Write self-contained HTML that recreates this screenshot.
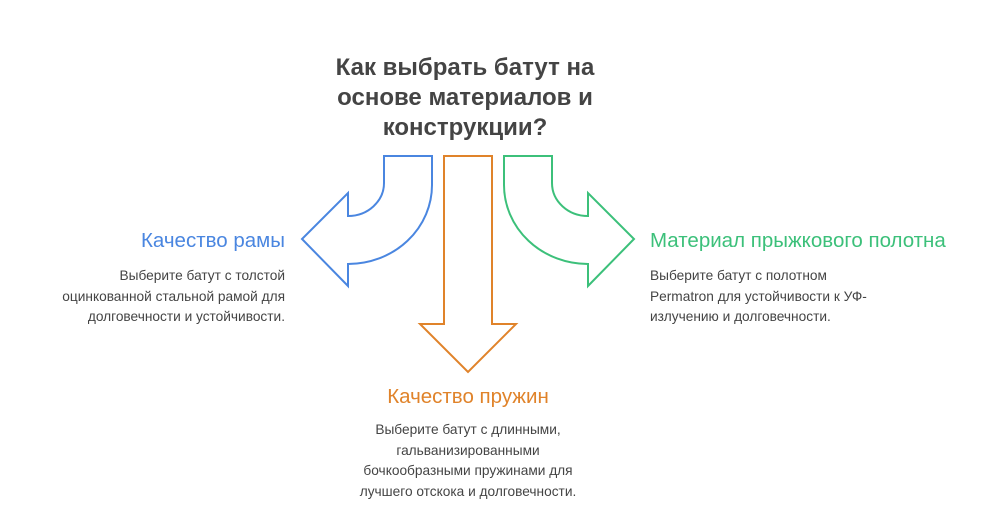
<!DOCTYPE html>
<html><head><meta charset="utf-8"><style>
body{margin:0;width:984px;height:505px;background:#fff;font-family:"Liberation Sans",sans-serif;position:relative;overflow:hidden}
.t{position:absolute;white-space:nowrap}
.h{font-size:20.5px}
.d{font-size:13.7px;color:#444;line-height:20.7px}
</style></head><body>
<div class="t" style="left:265px;top:53px;width:400px;text-align:center;font-size:24px;font-weight:bold;color:#444;line-height:30px">Как выбрать батут на<br>основе материалов и<br>конструкции?</div>
<svg width="984" height="505" style="position:absolute;left:0;top:0">
<path d="M384 156 H432 V185 A84 79 0 0 1 348 264 V286 L302 239 L348 193 V216 A36 33 0 0 0 384 183 Z" fill="none" stroke="#4a86e0" stroke-width="2"/>
<path d="M444 156 H492 V324 H516 L468 372 L420 324 H444 Z" fill="none" stroke="#e0832a" stroke-width="2"/>
<path d="M552 156 H504 V185 A84 79 0 0 0 588 264 V286 L634 239 L588 193 V216 A36 33 0 0 1 552 183 Z" fill="none" stroke="#3cc07a" stroke-width="2"/>
</svg>
<div class="t h" style="right:699px;top:229px;color:#4a86e0">Качество рамы</div>
<div class="t d" style="right:699px;top:266px;text-align:right">Выберите батут с толстой<br>оцинкованной стальной рамой для<br>долговечности и устойчивости.</div>
<div class="t h" style="left:650px;top:229px;color:#3cc07a">Материал прыжкового полотна</div>
<div class="t d" style="left:650px;top:266px">Выберите батут с полотном<br>Permatron для устойчивости к УФ-<br>излучению и долговечности.</div>
<div class="t h" style="left:318px;top:385px;width:300px;text-align:center;color:#e0832a">Качество пружин</div>
<div class="t d" style="left:318px;top:420px;width:300px;text-align:center">Выберите батут с длинными,<br>гальванизированными<br>бочкообразными пружинами для<br>лучшего отскока и долговечности.</div>
</body></html>
